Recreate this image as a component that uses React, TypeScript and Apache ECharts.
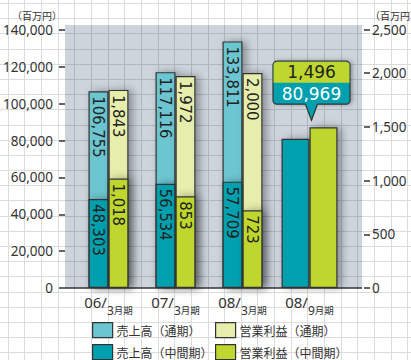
import { useEffect, useRef } from "react";
import * as echarts from "echarts";

// ---- data ----
const categories = ["06/3月期", "07/3月期", "08/3月期", "08/9月期"];
const salesFull = [106755, 117116, 133811, null];
const salesInterim = [48303, 56534, 57709, 80969];
const profitFull = [1843, 1972, 2000, null];
const profitInterim = [1018, 853, 723, 1496];
const leftTickLabels = ["0", "20,000", "40,000", "60,000", "80,000", "100,000", "120,000", "140,000"];
const rightTickLabels = ["0", "500", "1,000", "1,500", "2,000", "2,500"];
const unitLabel = "（百万円）";
const NAME_SALES_FULL = "売上高（通期）";
const NAME_PROFIT_FULL = "営業利益（通期）";
const NAME_SALES_INT = "売上高（中間期）";
const NAME_PROFIT_INT = "営業利益（中間期）";
const latestIndex = 3;

// ---- styles ----
const C_SALES_FULL = "#6cc6d1";
const C_SALES_INT = "#02a0ae";
const C_PROFIT_FULL = "#e7eeab";
const C_PROFIT_INT = "#bfd62f";
const C_TEXT = "#333333";
const F_CJK = "'Noto Sans CJK JP', sans-serif";
const F_NUM = "'Noto Sans', sans-serif";
const F_NARROW = "'Liberation Sans Narrow', 'DejaVu Sans Condensed', sans-serif";
const F_CALLOUT = "'DejaVu Sans', sans-serif";

const W = 411;
const H = 360;
const PLOT = { left: 65, right: 362, top: 25, bottom: 288 };

const fmt = (v: number) => v.toLocaleString("en-US");

function itemStyle(color: string) {
  return {
    color,
    borderColor: "#333",
    borderWidth: 1.2,
    shadowBlur: 8,
    shadowOffsetX: 4,
    shadowOffsetY: 0,
    shadowColor: "rgba(0,0,0,0.35)",
  };
}

const barLabel = {
  show: true,
  position: "insideTop",
  distance: 5,
  rotate: -90,
  align: "left",
  verticalAlign: "middle",
  color: "#222",
  fontFamily: F_NARROW,
  fontSize: 16.5,
  formatter: (p: any) => (p.value == null ? "" : fmt(p.value)),
};

function background() {
  const els: any[] = [];
  const vx: number[] = [];
  for (let x = 7.7; x < W; x += 16.65) vx.push(Math.round(x) + 0.5);
  const hy: number[] = [];
  for (let y = 2.9; y < H; y += 15.2) hy.push(Math.round(y) + 0.5);
  vx.forEach((x) =>
    els.push({ type: "line", z: 0, silent: true, shape: { x1: x, y1: 0, x2: x, y2: H }, style: { stroke: "#dcdcdc", lineWidth: 1 } })
  );
  hy.forEach((y) =>
    els.push({ type: "line", z: 0, silent: true, shape: { x1: 0, y1: y, x2: W, y2: y }, style: { stroke: "#dcdcdc", lineWidth: 1 } })
  );
  els.push({
    type: "rect",
    z: 0,
    silent: true,
    shape: { x: PLOT.left, y: PLOT.top, width: PLOT.right - PLOT.left, height: PLOT.bottom - PLOT.top },
    style: { fill: "#cdd4dc" },
  });
  vx.filter((x) => x > PLOT.left && x < PLOT.right).forEach((x) =>
    els.push({ type: "line", z: 0, silent: true, shape: { x1: x, y1: PLOT.top, x2: x, y2: PLOT.bottom }, style: { stroke: "#aeb6bf", lineWidth: 1 } })
  );
  hy.filter((y) => y > PLOT.top && y < PLOT.bottom).forEach((y) =>
    els.push({ type: "line", z: 0, silent: true, shape: { x1: PLOT.left, y1: y, x2: PLOT.right, y2: y }, style: { stroke: "#aeb6bf", lineWidth: 1 } })
  );
  els.push({
    type: "line",
    z: 1,
    silent: true,
    shape: { x1: PLOT.left, y1: PLOT.bottom, x2: PLOT.right, y2: PLOT.bottom },
    style: { stroke: "#333", lineWidth: 1.5 },
  });
  els.push({
    type: "text",
    z: 1,
    silent: true,
    x: 12,
    y: 15,
    style: { text: unitLabel, fill: C_TEXT, fontSize: 10, fontFamily: F_CJK, verticalAlign: "middle" },
  });
  els.push({
    type: "text",
    z: 1,
    silent: true,
    x: 370,
    y: 15,
    style: { text: unitLabel, fill: C_TEXT, fontSize: 10, fontFamily: F_CJK, verticalAlign: "middle" },
  });
  return els;
}

function callout(cx: number, tipY: number) {
  const bw = 77;
  const half = 21.5;
  const bottom = tipY - 16;
  const top = bottom - 2 * half;
  const left = cx - bw / 2;
  return [
    {
      type: "rect",
      z: 100,
      silent: true,
      shape: { x: left, y: top, width: bw, height: 2 * half, r: 4 },
      style: { fill: C_SALES_INT, stroke: "#333", lineWidth: 1.2, shadowBlur: 4, shadowOffsetX: 2, shadowColor: "rgba(0,0,0,0.3)" },
    },
    {
      type: "rect",
      z: 101,
      silent: true,
      shape: { x: left + 0.6, y: top + 0.6, width: bw - 1.2, height: half - 0.6, r: [3.5, 3.5, 0, 0] },
      style: { fill: C_PROFIT_INT },
    },
    {
      type: "polygon",
      z: 101,
      silent: true,
      shape: { points: [[cx - 6, bottom - 1.5], [cx + 6, bottom - 1.5], [cx + 6, bottom], [cx, tipY], [cx - 6, bottom]] },
      style: { fill: C_SALES_INT },
    },
    {
      type: "polyline",
      z: 102,
      silent: true,
      shape: { points: [[cx - 6, bottom], [cx, tipY], [cx + 6, bottom]] },
      style: { stroke: "#333", lineWidth: 1.2, fill: null },
    },
    {
      type: "text",
      z: 103,
      silent: true,
      x: cx,
      y: top + half / 2 + 0.5,
      style: {
        text: fmt(profitInterim[latestIndex]),
        fill: "#222",
        fontSize: 17,
        fontFamily: F_CALLOUT,
        align: "center",
        verticalAlign: "middle",
      },
    },
    {
      type: "text",
      z: 103,
      silent: true,
      x: cx,
      y: top + half * 1.5 + 0.5,
      style: {
        text: fmt(salesInterim[latestIndex]),
        fill: "#ffffff",
        fontSize: 17,
        fontFamily: F_CALLOUT,
        align: "center",
        verticalAlign: "middle",
      },
    },
  ];
}

function legendAt(name: string, left: number, top: number) {
  return {
    show: true,
    data: [name],
    left,
    top,
    padding: 0,
    itemWidth: 20,
    itemHeight: 15,
    itemGap: 0,
    icon: "rect",
    selectedMode: false,
    itemStyle: { borderColor: "#333", borderWidth: 1.2, shadowBlur: 0, shadowOffsetX: 0 },
    textStyle: { fontSize: 12, color: C_TEXT, fontFamily: F_CJK, padding: [0, 0, 0, -1] },
  };
}

const onlyLatest = (arr: (number | null)[]) => arr.map((v, i) => (i === latestIndex ? v : null));
const exceptLatest = (arr: (number | null)[]) => arr.map((v, i) => (i === latestIndex ? null : v));

export default function App() {
  const ref = useRef<HTMLDivElement>(null);
  useEffect(() => {
    if (!ref.current) return;
    const chart = echarts.init(ref.current, undefined, { renderer: "svg" });
    const xAxisBase = {
      type: "category",
      data: categories,
      gridIndex: 0,
      axisLine: { show: false },
      axisTick: { show: false },
    };
    const option: any = {
      animation: false,
      grid: { left: 75, right: W - 343, top: 30, bottom: H - PLOT.bottom, containLabel: false },
      legend: [
        legendAt(NAME_SALES_FULL, 92, 322),
        legendAt(NAME_PROFIT_FULL, 215, 322),
        legendAt(NAME_SALES_INT, 92, 344),
        legendAt(NAME_PROFIT_INT, 215, 344),
      ],
      xAxis: [
        {
          ...xAxisBase,
          axisLabel: {
            margin: 6,
            interval: 0,
            formatter: (v: string) => {
              const [head, tail] = v.split("/");
              const num = tail.replace(/[^0-9]/g, "");
              const rest = tail.replace(/[0-9]/g, "");
              return `{a|${head}/}{b|${num}}{c|${rest}}`;
            },
            rich: {
              a: { fontSize: 15, fontFamily: F_NUM, color: C_TEXT, verticalAlign: "top", lineHeight: 16 },
              b: { fontSize: 12, fontFamily: F_NUM, color: C_TEXT, verticalAlign: "middle", lineHeight: 32 },
              c: { fontSize: 9.5, fontFamily: F_CJK, color: C_TEXT, verticalAlign: "middle", lineHeight: 32 },
            },
          },
        },
        { ...xAxisBase, show: false },
        { ...xAxisBase, show: false },
      ],
      yAxis: [
        {
          type: "value",
          position: "left",
          offset: 10,
          min: 0,
          max: 140000,
          interval: 20000,
          axisLine: { show: false },
          axisTick: { show: true, length: 6, lineStyle: { color: "#333", width: 1.5 } },
          splitLine: { show: false },
          axisLabel: {
            margin: 12,
            color: C_TEXT,
            fontSize: 13.5,
            fontFamily: F_NUM,
            formatter: (_v: number, i: number) => leftTickLabels[i],
          },
        },
        {
          type: "value",
          position: "right",
          offset: 21,
          min: 0,
          max: 2400,
          interval: 500,
          axisLine: { show: false },
          axisTick: { show: true, length: 6, lineStyle: { color: "#333", width: 1.5 } },
          splitLine: { show: false },
          axisLabel: {
            margin: 8,
            color: C_TEXT,
            fontSize: 13.5,
            fontFamily: F_NUM,
            formatter: (_v: number, i: number) => rightTickLabels[i],
          },
        },
      ],
      series: [
        {
          name: NAME_SALES_FULL,
          type: "bar",
          xAxisIndex: 0,
          yAxisIndex: 0,
          barWidth: 20,
          barGap: "0%",
          data: salesFull,
          itemStyle: itemStyle(C_SALES_FULL),
          label: barLabel,
        },
        {
          name: NAME_SALES_INT,
          type: "bar",
          xAxisIndex: 1,
          yAxisIndex: 0,
          barWidth: 20,
          barGap: "0%",
          data: exceptLatest(salesInterim),
          itemStyle: itemStyle(C_SALES_INT),
          label: barLabel,
        },
        {
          name: NAME_PROFIT_FULL,
          type: "bar",
          xAxisIndex: 0,
          yAxisIndex: 1,
          barWidth: 20,
          barGap: "0%",
          data: profitFull,
          itemStyle: itemStyle(C_PROFIT_FULL),
          label: barLabel,
        },
        {
          name: NAME_PROFIT_INT,
          type: "bar",
          xAxisIndex: 1,
          yAxisIndex: 1,
          barWidth: 20,
          barGap: "0%",
          data: exceptLatest(profitInterim),
          itemStyle: itemStyle(C_PROFIT_INT),
          label: barLabel,
        },
        {
          name: NAME_SALES_INT,
          type: "bar",
          xAxisIndex: 2,
          yAxisIndex: 0,
          barWidth: 28,
          barGap: "0%",
          data: onlyLatest(salesInterim),
          itemStyle: itemStyle(C_SALES_INT),
        },
        {
          name: NAME_PROFIT_INT,
          type: "bar",
          xAxisIndex: 2,
          yAxisIndex: 1,
          barWidth: 28,
          barGap: "0%",
          data: onlyLatest(profitInterim),
          itemStyle: itemStyle(C_PROFIT_INT),
        },
      ],
    };
    chart.setOption(option);

    const cxRaw = chart.convertToPixel({ xAxisIndex: 2 } as any, categories[latestIndex]) as any;
    const cx = typeof cxRaw === "number" ? cxRaw : 309.5;
    const ySales = chart.convertToPixel({ yAxisIndex: 0 } as any, salesInterim[latestIndex]) as any;
    const yProfit = chart.convertToPixel({ yAxisIndex: 1 } as any, profitInterim[latestIndex]) as any;
    const tipY = Math.min(ySales, yProfit) - 7;
    chart.setOption({ graphic: { elements: [...background(), ...callout(cx + 2, tipY)] } });

    return () => chart.dispose();
  }, []);
  return <div ref={ref} style={{ position: "absolute", left: 0, top: 0, width: W, height: H }} />;
}
